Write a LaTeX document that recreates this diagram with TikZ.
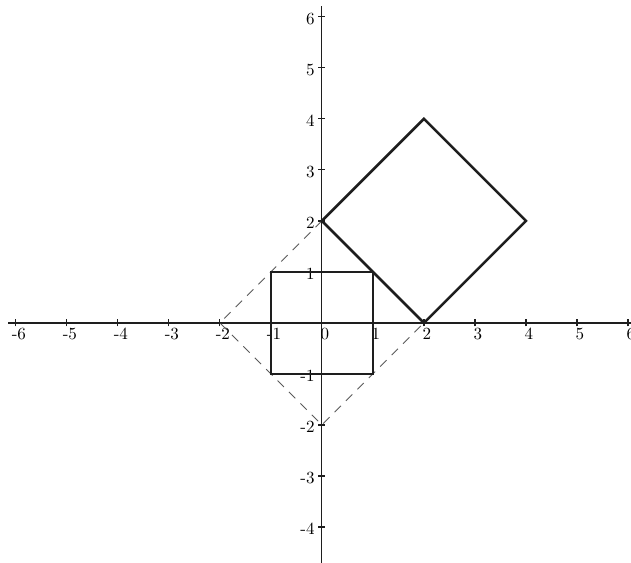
\documentclass[tikz,border=0pt]{standalone}
\usepackage{tikz}
\usetikzlibrary{calc}
\definecolor{primary}{RGB}{30, 30, 30}
\definecolor{guide}{RGB}{90, 90, 90}

\begin{document}
\begin{tikzpicture}[scale=1]
\useasboundingbox (-6.31,-4.69) rectangle (6.06,6.33);
\begin{scope}
\draw[primary,line width=0.7pt] (-6.15,0) -- (6.1,0);
\draw[primary,line width=0.7pt] (0,-4.75) -- (0,6.22);
\foreach \i in {-6,...,6} {
  \draw[primary,line width=0.7pt] (\i,-0.07) -- (\i,0.07);
  \node[anchor=north,font=\fontsize{9.5}{11}\selectfont,inner sep=1pt] at ($(\i,-0.06)+(0.06,0)$) {\i};
}
\foreach \j in {-4,...,6} {
  \draw[primary,line width=0.7pt] (-0.07,\j) -- (0.07,\j);
}
\foreach \j in {-4,-3,-2,-1,1,2,3,4,5,6} {
  \node[anchor=east,font=\fontsize{9.5}{11}\selectfont,inner sep=1pt] at (-0.1,\j-0.04) {\j};
}
\end{scope}
\coordinate (L) at (-2,0);
\coordinate (T) at (0,2);
\coordinate (R) at (2,0);
\coordinate (B) at (0,-2);
\draw[guide,line width=0.5pt,dash pattern=on 5pt off 4pt] (T) -- (L) -- (B) -- (R);
\draw[primary,line width=1.4pt] (-1,-1) rectangle (1,1);
\draw[primary,line width=1.4pt,line join=miter] (T) -- (2,4) -- (4,2) -- (R) -- cycle;
\end{tikzpicture}
\end{document}
